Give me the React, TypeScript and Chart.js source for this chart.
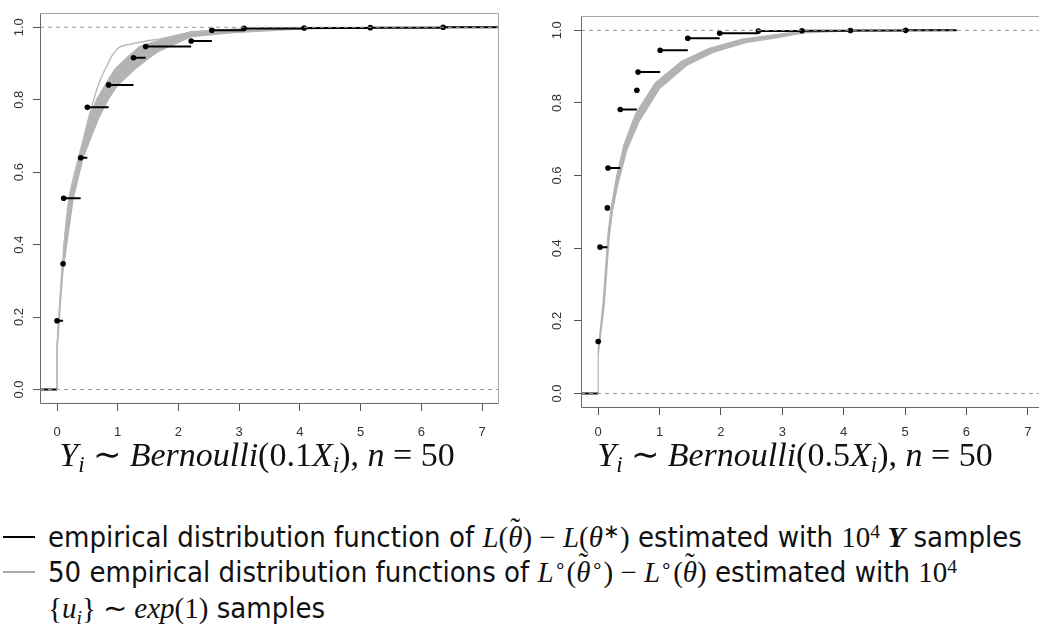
import React, { useEffect, useRef } from "react";
import { Chart, registerables } from "chart.js";
Chart.register(...registerables);

// ---------- axes ----------
const xTicks = [0, 1, 2, 3, 4, 5, 6, 7];
const yTicks = [0, 0.2, 0.4, 0.6, 0.8, 1.0];
const xRange = [-0.28, 7.28];
const yRange = [-0.04, 1.04];

// ---------- left panel: Bernoulli(0.1 X_i) ----------
const leftJumpX = [0.0, 0.1, 0.11, 0.39, 0.5, 0.85, 1.26, 1.46, 2.21, 2.55, 3.08, 4.07, 5.16, 6.36];
const leftJumpY = [0.19, 0.347, 0.528, 0.64, 0.779, 0.841, 0.916, 0.947, 0.962, 0.992, 0.997, 0.998, 0.999, 1.0];
const leftEndX = 7.6;

const leftBandUpperX = [0, 0, 0.05, 0.1, 0.115, 0.21, 0.37, 0.46, 0.53, 0.65, 0.79, 0.95, 1.15, 1.36, 1.69, 2.21, 2.9, 4, 7.6];
const leftBandUpperY = [0, 0.12, 0.25, 0.36, 0.4, 0.53, 0.64, 0.7, 0.75, 0.8, 0.84, 0.884, 0.916, 0.947, 0.965, 0.988, 0.995, 0.999, 1];
const leftBandLowerX = [0, 0, 0.05, 0.1, 0.16, 0.27, 0.43, 0.57, 0.69, 0.84, 1.0, 1.28, 1.52, 1.69, 2.21, 2.9, 4, 5, 7.6];
const leftBandLowerY = [0, 0.1, 0.22, 0.33, 0.4, 0.53, 0.64, 0.7, 0.75, 0.8, 0.84, 0.884, 0.916, 0.935, 0.974, 0.985, 0.995, 0.998, 1];

const leftOutlierX = [0, 0, 0.05, 0.1, 0.2, 0.4, 0.57, 0.7, 0.84, 0.92, 1.03, 1.2, 1.47, 1.7, 2.2, 3, 4, 7.6];
const leftOutlierY = [0, 0.11, 0.25, 0.37, 0.53, 0.67, 0.78, 0.85, 0.9, 0.925, 0.945, 0.953, 0.962, 0.968, 0.985, 0.995, 0.999, 1];

// ---------- right panel: Bernoulli(0.5 X_i) ----------
const rightJumpX = [0.0, 0.03, 0.15, 0.16, 0.36, 0.63, 0.65, 1.01, 1.46, 1.98, 2.61, 3.32, 4.11, 5.01];
const rightJumpY = [0.143, 0.403, 0.511, 0.621, 0.782, 0.835, 0.885, 0.945, 0.978, 0.992, 0.998, 0.999, 0.9995, 1.0];
const rightEndX = 5.84;

const rightBandUpperX = [0, 0, 0.08, 0.16, 0.21, 0.29, 0.42, 0.61, 0.93, 1.36, 1.8, 2.35, 2.8, 3.3, 4, 5.84];
const rightBandUpperY = [0, 0.12, 0.25, 0.44, 0.51, 0.59, 0.685, 0.77, 0.855, 0.915, 0.95, 0.976, 0.986, 0.997, 0.9995, 1];
const rightBandLowerX = [0, 0, 0.1, 0.18, 0.235, 0.32, 0.47, 0.67, 1.0, 1.44, 1.88, 2.42, 2.85, 3.35, 4, 5.84];
const rightBandLowerY = [0, 0.105, 0.245, 0.43, 0.505, 0.575, 0.672, 0.75, 0.84, 0.903, 0.94, 0.967, 0.978, 0.993, 0.998, 1];

const refLevels = [0, 1];

// ---------- helpers ----------
type P = { x: number; y: number | null };

function stepPoints(xs: number[], ys: number[], endX: number): P[] {
  const pts: P[] = [{ x: xRange[0] - 1, y: 0 }, { x: xs[0], y: 0 }, { x: xs[0], y: null }];
  for (let i = 0; i < xs.length; i++) {
    const nx = i + 1 < xs.length ? xs[i + 1] : endX;
    pts.push({ x: xs[i], y: ys[i] }, { x: nx, y: ys[i] }, { x: nx, y: null });
  }
  return pts;
}

function zip(xs: number[], ys: number[]): P[] {
  return xs.map((x, i) => ({ x, y: ys[i] }));
}

function bandPolygon(ux: number[], uy: number[], lx: number[], ly: number[]): P[] {
  return [...zip(ux, uy), ...zip(lx, ly).reverse()];
}

const boxPlugin = {
  id: "rbox",
  afterDatasetsDraw(chart: any) {
    const { ctx, chartArea: a } = chart;
    const l = Math.round(a.left) + 0.5;
    const r = Math.round(a.right) - 0.5;
    const t = Math.round(a.top) + 0.5;
    const b = Math.round(a.bottom) - 0.5;
    ctx.save();
    ctx.lineWidth = 1;
    ctx.strokeStyle = "#a8a8a8";
    ctx.beginPath();
    ctx.moveTo(l, t);
    ctx.lineTo(r, t);
    ctx.lineTo(r, b);
    ctx.stroke();
    ctx.strokeStyle = "#6a6a6a";
    ctx.beginPath();
    ctx.moveTo(l, t);
    ctx.lineTo(l, b);
    ctx.lineTo(r, b);
    ctx.stroke();
    ctx.restore();
  },
};

type PanelCfg = {
  jumpX: number[];
  jumpY: number[];
  endX: number;
  band: P[];
  outlier: P[] | null;
  yAxisW: number;
  xAxisH: number;
  padTop: number;
  padRight: number;
  xPad: number;
  yPad: number;
};

const tickFont = { family: '"Liberation Sans", Arial, sans-serif', size: 13 };

function Panel(props: { cfg: PanelCfg; width: number; height: number; left: number }) {
  const ref = useRef<HTMLCanvasElement | null>(null);
  useEffect(() => {
    const c = props.cfg;
    const datasets: any[] = [];
    refLevels.forEach((lv) => {
      datasets.push({
        data: [{ x: xRange[0], y: lv }, { x: xRange[1], y: lv }],
        showLine: true,
        borderColor: "#9a9a9a",
        borderWidth: 1,
        borderDash: [4, 4],
        pointRadius: 0,
        fill: false,
      });
    });
    datasets.push({
      data: zip(c.jumpX, c.jumpY),
      showLine: false,
      pointRadius: 2.8,
      pointBackgroundColor: "#000",
      pointBorderColor: "#000",
      pointBorderWidth: 0,
    });
    datasets.push({
      data: stepPoints(c.jumpX, c.jumpY, c.endX),
      showLine: true,
      spanGaps: false,
      borderColor: "#000",
      borderWidth: 2,
      pointRadius: 0,
      fill: false,
    });
    if (c.outlier) {
      datasets.push({
        data: c.outlier,
        showLine: true,
        borderColor: "#b8b8b8",
        borderWidth: 1.4,
        pointRadius: 0,
        tension: 0.3,
        fill: false,
      });
    }
    datasets.push({
      data: c.band,
      showLine: true,
      borderColor: "#b3b3b3",
      backgroundColor: "#b3b3b3",
      borderWidth: 1.2,
      pointRadius: 0,
      fill: "shape",
    });

    const chart = new Chart(ref.current as HTMLCanvasElement, {
      type: "scatter",
      data: { datasets },
      plugins: [boxPlugin],
      options: {
        responsive: false,
        animation: false,
        events: [],
        layout: { padding: { left: 0, right: c.padRight, top: c.padTop, bottom: 0 } },
        plugins: { legend: { display: false }, tooltip: { enabled: false } },
        scales: {
          x: {
            type: "linear",
            min: xRange[0],
            max: xRange[1],
            afterBuildTicks: (s: any) => {
              s.ticks = xTicks.map((v) => ({ value: v }));
            },
            afterFit: (s: any) => {
              s.height = c.xAxisH;
            },
            grid: { display: true, drawOnChartArea: false, drawTicks: true, tickLength: 7, color: "#555", lineWidth: 1 },
            border: { display: false },
            ticks: {
              autoSkip: false,
              maxRotation: 0,
              minRotation: 0,
              padding: c.xPad,
              font: tickFont,
              color: "#333",
              callback: (v: any) => String(v),
            },
          },
          y: {
            type: "linear",
            min: yRange[0],
            max: yRange[1],
            afterBuildTicks: (s: any) => {
              s.ticks = yTicks.map((v) => ({ value: v }));
            },
            afterFit: (s: any) => {
              s.width = c.yAxisW;
            },
            grid: { display: true, drawOnChartArea: false, drawTicks: true, tickLength: 7, color: "#555", lineWidth: 1 },
            border: { display: false },
            ticks: {
              autoSkip: false,
              minRotation: 90,
              maxRotation: 90,
              crossAlign: "center",
              padding: c.yPad,
              font: tickFont,
              color: "#333",
              callback: (v: any) => Number(v).toFixed(1),
            },
          },
        },
      } as any,
    });
    return () => chart.destroy();
  }, []);
  return (
    <canvas
      ref={ref}
      width={props.width}
      height={props.height}
      style={{ position: "absolute", left: props.left, top: 0, width: props.width, height: props.height, display: "block" }}
    />
  );
}

const leftCfg: PanelCfg = {
  jumpX: leftJumpX,
  jumpY: leftJumpY,
  endX: leftEndX,
  band: bandPolygon(leftBandUpperX, leftBandUpperY, leftBandLowerX, leftBandLowerY),
  outlier: zip(leftOutlierX, leftOutlierY),
  yAxisW: 40,
  xAxisH: 41,
  padTop: 2,
  padRight: 11,
  xPad: 14,
  yPad: 5,
};

const rightCfg: PanelCfg = {
  jumpX: rightJumpX,
  jumpY: rightJumpY,
  endX: rightEndX,
  band: bandPolygon(rightBandUpperX, rightBandUpperY, rightBandLowerX, rightBandLowerY),
  outlier: null,
  yAxisW: 71,
  xAxisH: 37,
  padTop: 1,
  padRight: 5,
  xPad: 10,
  yPad: 8,
};

const serif = '"Liberation Serif", "Times New Roman", serif';
const sans = '"Liberation Sans Narrow", "DejaVu Sans Condensed", "Liberation Sans", Arial, sans-serif';

const subS: React.CSSProperties = { fontSize: "0.68em", verticalAlign: "-0.28em", lineHeight: 0 };
const supS: React.CSSProperties = { fontSize: "0.68em", verticalAlign: "0.45em", lineHeight: 0 };
const sansS: React.CSSProperties = { fontFamily: sans, fontStretch: "condensed" };
const mathS: React.CSSProperties = { fontFamily: serif };

function TildeTheta() {
  return (
    <span style={{ position: "relative", display: "inline-block", lineHeight: 1 }}>
      <i>θ</i>
      <span
        style={{
          position: "absolute",
          left: "-0.15em",
          right: "-0.15em",
          top: "-0.3em",
          lineHeight: 1,
          textAlign: "center",
          fontStyle: "normal",
          fontSize: "1em",
        }}
      >
        ˜
      </span>
    </span>
  );
}

function Title(props: { coef: string; left: number; width: number }) {
  return (
    <div
      style={{
        position: "absolute",
        left: props.left,
        width: props.width,
        top: 435,
        textAlign: "center",
        fontFamily: serif,
        fontSize: 34,
        lineHeight: "40px",
        color: "#111",
        whiteSpace: "nowrap",
      }}
    >
      <i>Y</i>
      <span style={subS}>
        <i>i</i>
      </span>{" "}
      ∼ <i>Bernoulli</i>({props.coef}
      <i>X</i>
      <span style={subS}>
        <i>i</i>
      </span>
      ), <i>n</i> = 50
    </div>
  );
}

export default function App() {
  const legendLine: React.CSSProperties = {
    position: "absolute",
    left: 48,
    fontSize: 29,
    lineHeight: "36px",
    whiteSpace: "nowrap",
    color: "#111",
  };
  return (
    <div style={{ position: "absolute", left: 0, top: 0, width: 1039, height: 643, overflow: "hidden", background: "#fff" }}>
      <Panel cfg={leftCfg} width={510} height={445} left={0} />
      <Panel cfg={rightCfg} width={540} height={445} left={510} />
      <Title coef="0.1" left={0} width={514} />
      <Title coef="0.5" left={520} width={550} />

      <div style={{ position: "absolute", left: 3, top: 536, width: 32, height: 2, background: "#000" }} />
      <div style={{ position: "absolute", left: 3, top: 571, width: 32, height: 2, background: "#aaa" }} />

      <div style={{ ...legendLine, top: 519 }}>
        <span style={sansS}>empirical distribution function of </span>
        <span style={mathS}>
          <i>L</i>(<TildeTheta />) − <i>L</i>(<i>θ</i>
          <span style={supS}>∗</span>)
        </span>
        <span style={sansS}> estimated with </span>
        <span style={mathS}>
          10<span style={supS}>4</span> <b><i>Y</i></b>
        </span>
        <span style={sansS}> samples</span>
      </div>
      <div style={{ ...legendLine, top: 554 }}>
        <span style={sansS}>50 empirical distribution functions of </span>
        <span style={mathS}>
          <i>L</i>
          <span style={supS}>∘</span>(<TildeTheta />
          <span style={supS}>∘</span>) − <i>L</i>
          <span style={supS}>∘</span>(<TildeTheta />)
        </span>
        <span style={sansS}> estimated with </span>
        <span style={mathS}>
          10<span style={supS}>4</span>
        </span>
      </div>
      <div style={{ ...legendLine, top: 590 }}>
        <span style={mathS}>
          {"{"}
          <i>u</i>
          <span style={subS}>
            <i>i</i>
          </span>
          {"}"} ∼ <i>exp</i>(1)
        </span>
        <span style={sansS}> samples</span>
      </div>
    </div>
  );
}
